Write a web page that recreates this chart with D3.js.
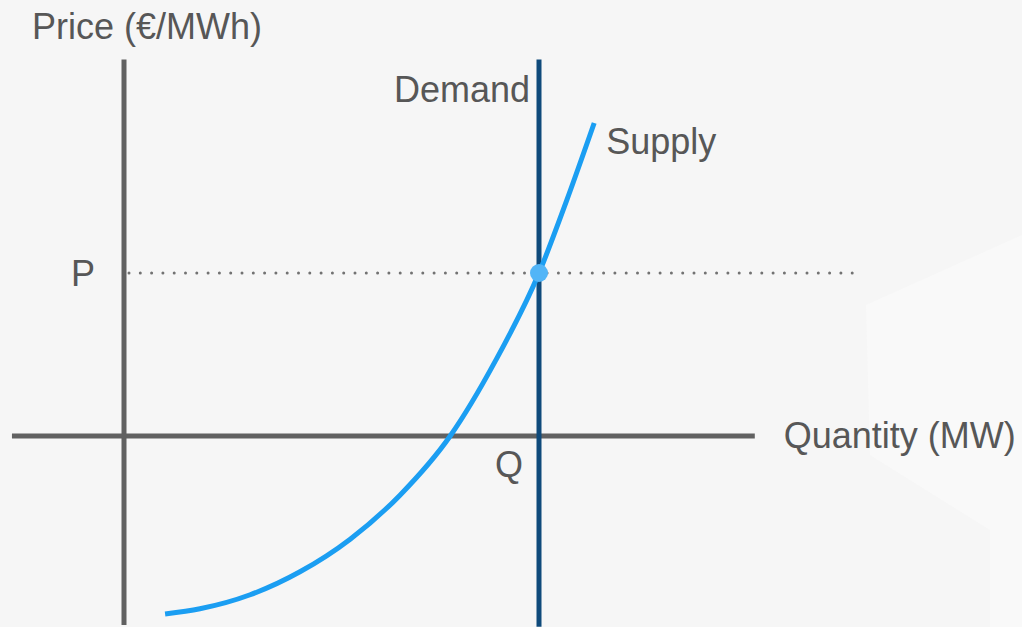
<!DOCTYPE html>
<html>
<head>
<meta charset="utf-8">
<script src="https://cdn.jsdelivr.net/npm/d3@7"></script>
<style>
  html, body { margin: 0; padding: 0; background: #f6f6f6; }
  svg { display: block; }
  text { font-family: "Liberation Sans", Arial, Helvetica, sans-serif; fill: #575757; }
</style>
</head>
<body>
<div class="vis-holder"></div>
<script>
// equilibrium values (quantity Q, price P), in arbitrary units
var equilibrium = { q: 100, p: 100 };

// supply curve: quantity vs price
var supplyQuantity = [9.9, 18.3, 30.4, 42.4, 54.5, 66.5, 78.6, 89.4, 100, 106.7, 113.3];
var supplyPrice = [-109.2, -106.0, -97.4, -83.3, -63.3, -36.3, 0, 45.6, 100, 144.7, 192];

// how far the drawn axes reach (data units)
var quantityAxisExtent = [-27, 152];
var priceAxisExtent = [-116, 231];
var demandExtent = [-117, 231];
var dottedExtent = [0, 178];

// labels
var axisTitles = { price: "Price (€/MWh)", quantity: "Quantity (MW)" };
var curveLabels = { demand: "Demand", supply: "Supply", p: "P", q: "Q" };

function supply_demand_chart() {
	var width = 1022;
	var height = 627;
	var fontSize = 36;

	var svg = d3.select(".vis-holder")
				.append("svg")
				.attr("width", width)
				.attr("height", height);

	// faint background shapes on the right
	svg.append("rect")
		.attr("width", width)
		.attr("height", height)
		.attr("fill", "#f6f6f6");
	svg.append("polygon")
		.attr("points", "866,305 1022,235 1022,627 990,627 990,530 870,455")
		.attr("fill", "#f9f9f9");

	// origin at (124, 436); equilibrium at (539, 273)
	var xScale = d3.scaleLinear()
				   .domain([0, equilibrium.q])
				   .range([124, 539]);
	var yScale = d3.scaleLinear()
				   .domain([0, equilibrium.p])
				   .range([436, 273]);

	var axisColor = "#616161";

	// dotted price line
	svg.append("line")
		.attr("x1", xScale(dottedExtent[0]) + 5)
		.attr("x2", xScale(dottedExtent[1]))
		.attr("y1", yScale(equilibrium.p))
		.attr("y2", yScale(equilibrium.p))
		.attr("stroke", "#727272")
		.attr("stroke-width", 3)
		.attr("stroke-linecap", "round")
		.attr("stroke-dasharray", "0,11.3");

	// price axis
	svg.append("line")
		.attr("x1", xScale(0)).attr("x2", xScale(0))
		.attr("y1", yScale(priceAxisExtent[1]))
		.attr("y2", yScale(priceAxisExtent[0]))
		.attr("stroke", axisColor)
		.attr("stroke-width", 5);

	// quantity axis
	svg.append("line")
		.attr("x1", xScale(quantityAxisExtent[0]))
		.attr("x2", xScale(quantityAxisExtent[1]))
		.attr("y1", yScale(0)).attr("y2", yScale(0))
		.attr("stroke", axisColor)
		.attr("stroke-width", 5);

	// demand (vertical)
	svg.append("line")
		.attr("x1", xScale(equilibrium.q)).attr("x2", xScale(equilibrium.q))
		.attr("y1", yScale(demandExtent[1]))
		.attr("y2", yScale(demandExtent[0]))
		.attr("stroke", "#0f4a7b")
		.attr("stroke-width", 5);

	// supply curve
	var supplyData = supplyQuantity.map(function(q, i) { return { q: q, p: supplyPrice[i] }; });
	var line = d3.line()
				 .x(function(d) { return xScale(d.q); })
				 .y(function(d) { return yScale(d.p); })
				 .curve(d3.curveMonotoneX);
	svg.append("path")
		.attr("d", line(supplyData))
		.attr("fill", "none")
		.attr("stroke", "#1b9ef2")
		.attr("stroke-width", 5);

	// equilibrium point
	svg.append("circle")
		.attr("cx", xScale(equilibrium.q))
		.attr("cy", yScale(equilibrium.p))
		.attr("r", 9)
		.attr("fill", "#52b5f7");

	// labels
	svg.append("text")
		.attr("x", 32).attr("y", 39)
		.attr("font-size", fontSize)
		.text(axisTitles.price);

	svg.append("text")
		.attr("x", xScale(quantityAxisExtent[1]) + 29)
		.attr("y", yScale(0) + 12)
		.attr("font-size", fontSize)
		.text(axisTitles.quantity);

	svg.append("text")
		.attr("x", xScale(equilibrium.q) - 9)
		.attr("y", 102)
		.attr("text-anchor", "end")
		.attr("font-size", fontSize)
		.text(curveLabels.demand);

	var last = supplyData[supplyData.length - 1];
	svg.append("text")
		.attr("x", xScale(last.q) + 12)
		.attr("y", yScale(last.p) + 31)
		.attr("font-size", fontSize)
		.text(curveLabels.supply);

	svg.append("text")
		.attr("x", xScale(0) - 41)
		.attr("y", yScale(equilibrium.p) + 13)
		.attr("text-anchor", "middle")
		.attr("font-size", fontSize)
		.text(curveLabels.p);

	svg.append("text")
		.attr("x", xScale(equilibrium.q) - 30)
		.attr("y", yScale(0) + 41)
		.attr("text-anchor", "middle")
		.attr("font-size", fontSize)
		.text(curveLabels.q);
}

supply_demand_chart();
</script>
</body>
</html>
